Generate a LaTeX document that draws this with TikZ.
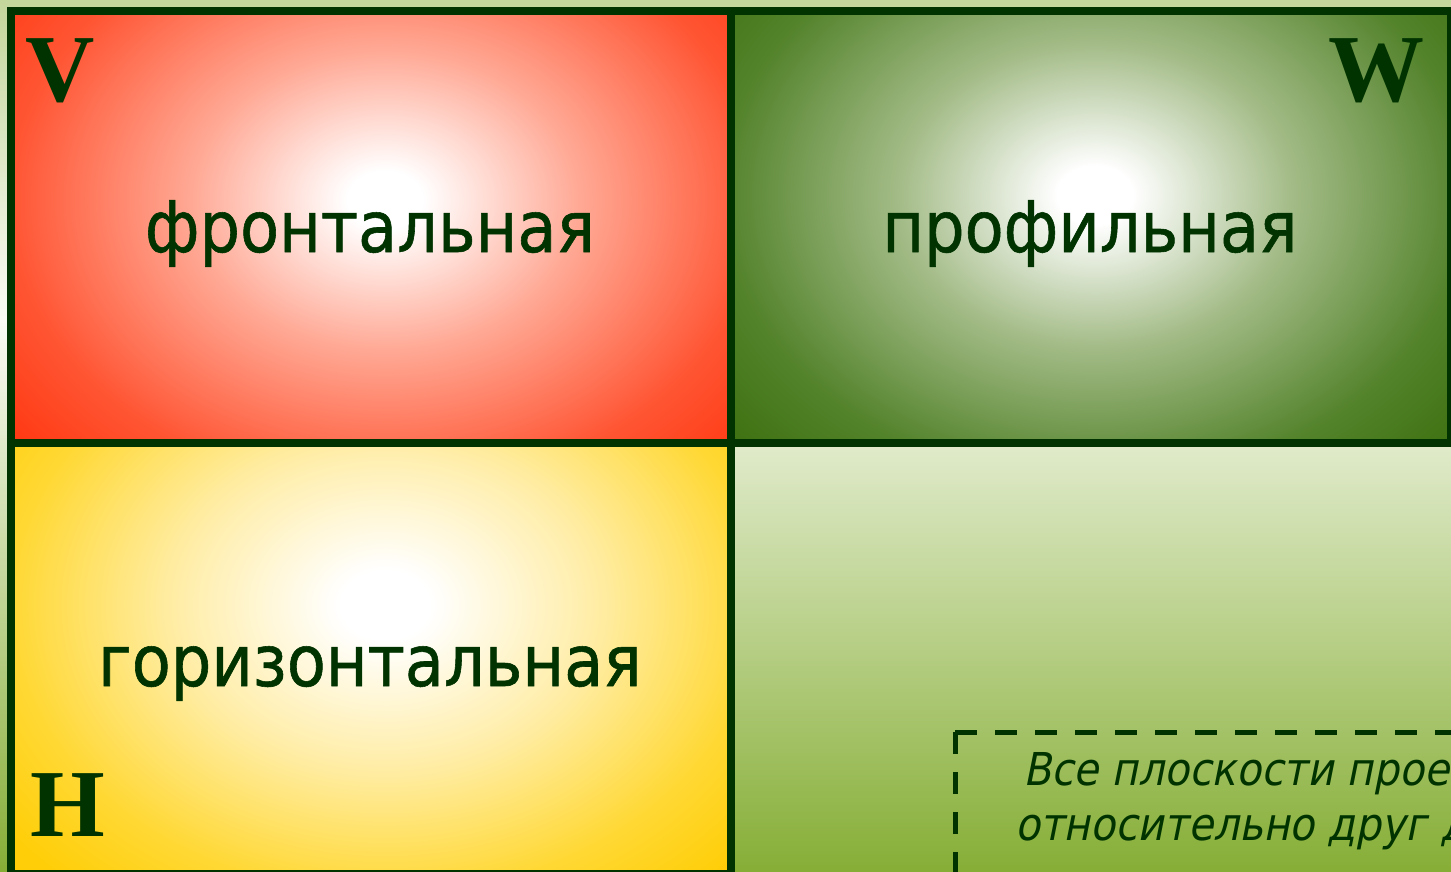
\documentclass[tikz,border=0pt]{standalone}
\usepackage{fontspec}
\newfontfamily\tah{DejaVu Sans Condensed}[FakeBold=0.8]
\newfontfamily\tahit{DejaVu Sans Condensed}[FakeSlant=0.2]
\newfontfamily\tnr{Liberation Serif}[BoldFont={Liberation Serif Bold}]
\definecolor{dkgreen}{HTML}{003300}
\definecolor{bgtop}{HTML}{C3D69B}
\definecolor{bgmid}{HTML}{FAFCF5}
\definecolor{bgbot}{HTML}{86AE36}
\definecolor{rA}{HTML}{FFA894}
\definecolor{rB}{HTML}{FF5533}
\definecolor{rC}{HTML}{FF3A14}
\definecolor{rD}{HTML}{FF3300}
\definecolor{gA}{HTML}{A4BC88}
\definecolor{gB}{HTML}{52822A}
\definecolor{gC}{HTML}{3F7212}
\definecolor{gD}{HTML}{3A6C10}
\definecolor{yA}{HTML}{FFEDA6}
\definecolor{yB}{HTML}{FFD833}
\definecolor{yC}{HTML}{FFCE08}
\definecolor{yD}{HTML}{FFCC00}
\pgfdeclareverticalshading{bgshade}{100bp}{color(0bp)=(bgbot); color(25bp)=(bgbot); color(56.6bp)=(bgmid); color(75bp)=(bgtop); color(100bp)=(bgtop)}
\pgfdeclareradialshading{redrad}{\pgfpointorigin}{color(0bp)=(white); color(2.5bp)=(white); color(13bp)=(rA); color(25bp)=(rB); color(32bp)=(rC); color(50bp)=(rD)}
\pgfdeclareradialshading{greenrad}{\pgfpointorigin}{color(0bp)=(white); color(2.5bp)=(white); color(13bp)=(gA); color(25bp)=(gB); color(32bp)=(gC); color(50bp)=(gD)}
\pgfdeclareradialshading{yellowrad}{\pgfpointorigin}{color(0bp)=(white); color(3bp)=(white); color(14bp)=(yA); color(25bp)=(yB); color(32bp)=(yC); color(50bp)=(yD)}
\tikzset{
  panelborder/.style={draw=dkgreen, line width=8pt},
  biglabel/.style={inner sep=0pt, anchor=base, text=dkgreen, font=\tah\fontsize{71}{80}\selectfont},
  letter/.style={inner sep=0pt, text=dkgreen, font=\tnr\bfseries\fontsize{96}{100}\selectfont},
  notetext/.style={inner sep=0pt, anchor=base west, text=dkgreen, font=\tahit\fontsize{45.3}{55}\selectfont},
  dashline/.style={draw=dkgreen, line width=5pt, dash pattern=on 22pt off 18pt}
}
\begin{document}
\begin{tikzpicture}[x=1pt,y=-1pt]
\useasboundingbox (0,0) rectangle (1451,872);
\clip (0,0) rectangle (1451,872);
% background
\shade[shading=bgshade] (0,0) rectangle (1451,872);
% frontal panel
\begin{scope}
  \clip (11,11) rectangle (731,443);
  \shade[shading=redrad] (10,-90) rectangle (760,490);
\end{scope}
% profile panel
\begin{scope}
  \clip (731,11) rectangle (1451,443);
  \shade[shading=greenrad] (720,-95) rectangle (1470,485);
\end{scope}
% horizontal panel
\begin{scope}
  \clip (11,443) rectangle (731,874);
  \shade[shading=yellowrad] (10,315) rectangle (760,895);
\end{scope}
\path[panelborder] (11,11) rectangle (731,443);
\path[panelborder] (731,11) rectangle (1451,443);
\path[panelborder] (11,443) rectangle (731,874);
% labels
\node[biglabel] (front) at (370,252) {фронтальная};
\node[biglabel] (prof) at (1090,252) {профильная};
\node[biglabel] (horiz) at (370,686) {горизонтальная};
\node[letter, anchor=base west] (V) at (25,102) {V};
\node[letter, anchor=base east] (W) at (1425,102) {W};
\node[letter, anchor=base west] (H) at (30,836) {H};
% dashed note box
\coordinate (nbTL) at (955,732);
\coordinate (nbTR) at (1500,732);
\coordinate (nbBL) at (955,900);
\path[dashline] (nbTL) -- (nbTR);
\path[dashline] (nbTL) -- (nbBL);
\node[notetext] (note1) at (1023,785) {Все плоскости прое};
\node[notetext] (note2) at (1015,840) {относительно друг д};
\end{tikzpicture}
\end{document}
